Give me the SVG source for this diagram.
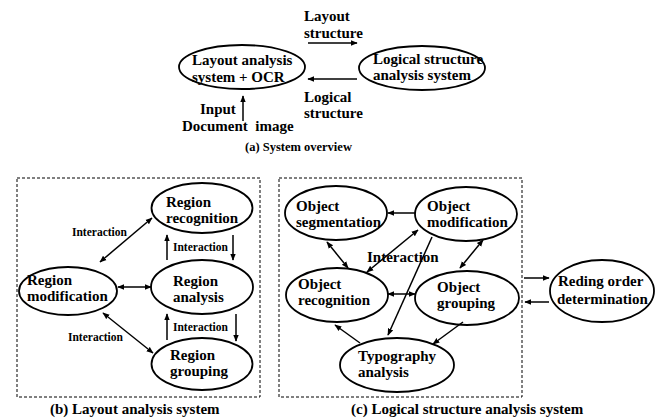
<svg xmlns="http://www.w3.org/2000/svg" width="657" height="420" viewBox="0 0 657 420">
<style>
text{font-family:"Liberation Serif","Times New Roman",serif;font-weight:bold;fill:#000}
.t{font-size:15px}
.s{font-size:11.5px}
.c{font-size:12.5px}
.n ellipse{fill:#fff;stroke:#000;stroke-width:1.8}
.box{fill:none;stroke:#000;stroke-width:1;stroke-dasharray:3,2}
.e line{stroke:#000;stroke-width:1.5}
</style>
<defs>
<marker id="a" viewBox="0 0 10 10" refX="9" refY="5" markerWidth="7" markerHeight="7" markerUnits="userSpaceOnUse" orient="auto-start-reverse">
<path d="M0,1 L10,5 L0,9 Z" fill="#000"/>
</marker>
</defs>
<rect fill="#fff" width="657" height="420"/>

<rect class="box" x="17" y="178" width="243" height="219"/>
<rect class="box" x="279" y="178" width="243" height="219"/>

<g class="n" id="las">
<ellipse cx="242" cy="67" rx="63" ry="22"/>
<text class="t" x="192" y="65">Layout analysis</text>
<text class="t" x="192" y="82">system + OCR</text>
</g>
<g class="n" id="lsas">
<ellipse cx="422" cy="68" rx="63" ry="22"/>
<text class="t" x="373" y="64">Logical structure</text>
<text class="t" x="373" y="80">analysis system</text>
</g>

<g class="n" id="rrec">
<ellipse cx="202" cy="208" rx="50.5" ry="25"/>
<text class="t" x="166" y="207">Region</text>
<text class="t" x="166" y="223">recognition</text>
</g>
<g class="n" id="rana">
<ellipse cx="202" cy="287" rx="51" ry="27"/>
<text class="t" x="173" y="286">Region</text>
<text class="t" x="173" y="302">analysis</text>
</g>
<g class="n" id="rgrp">
<ellipse cx="202" cy="364" rx="50.5" ry="26"/>
<text class="t" x="170" y="360">Region</text>
<text class="t" x="170" y="376">grouping</text>
</g>
<g class="n" id="rmod">
<ellipse cx="68" cy="291" rx="49" ry="24"/>
<text class="t" x="27" y="285">Region</text>
<text class="t" x="27" y="301">modification</text>
</g>

<g class="n" id="oseg">
<ellipse cx="336" cy="213" rx="51" ry="27"/>
<text class="t" x="296" y="211">Object</text>
<text class="t" x="296" y="227">segmentation</text>
</g>
<g class="n" id="omod">
<ellipse cx="466" cy="214" rx="51" ry="27"/>
<text class="t" x="427" y="211">Object</text>
<text class="t" x="427" y="227">modification</text>
</g>
<g class="n" id="orec">
<ellipse cx="337" cy="295" rx="51" ry="27"/>
<text class="t" x="298" y="289">Object</text>
<text class="t" x="298" y="305">recognition</text>
</g>
<g class="n" id="ogrp">
<ellipse cx="467" cy="298" rx="52" ry="27"/>
<text class="t" x="437" y="292">Object</text>
<text class="t" x="437" y="308">grouping</text>
</g>
<g class="n" id="typo">
<ellipse cx="397" cy="365" rx="57" ry="27"/>
<text class="t" x="358" y="361">Typography</text>
<text class="t" x="358" y="377">analysis</text>
</g>
<g class="n" id="rod">
<ellipse cx="602" cy="291" rx="52" ry="31"/>
<text class="t" x="558" y="286">Reding order</text>
<text class="t" x="557" y="304">determination</text>
</g>

<g class="e" id="connectors">
<line x1="308" y1="43" x2="357" y2="43" marker-end="url(#a)"/>
<line x1="357" y1="79" x2="308" y2="79" marker-end="url(#a)"/>
<line x1="243" y1="121" x2="243" y2="96" marker-end="url(#a)"/>

<line x1="100" y1="262" x2="152" y2="218" marker-start="url(#a)" marker-end="url(#a)"/>
<line x1="118" y1="287" x2="151" y2="287" marker-start="url(#a)" marker-end="url(#a)"/>
<line x1="103" y1="313" x2="153" y2="353" marker-start="url(#a)" marker-end="url(#a)"/>
<line x1="167" y1="260" x2="167" y2="235" marker-end="url(#a)"/>
<line x1="233" y1="235" x2="233" y2="260" marker-end="url(#a)"/>
<line x1="167" y1="340" x2="167" y2="314" marker-end="url(#a)"/>
<line x1="236" y1="314" x2="236" y2="341" marker-end="url(#a)"/>

<line x1="415" y1="213" x2="388" y2="213" marker-end="url(#a)"/>
<line x1="327" y1="242" x2="348" y2="268" marker-start="url(#a)" marker-end="url(#a)"/>
<line x1="418" y1="230" x2="367" y2="272" marker-start="url(#a)" marker-end="url(#a)"/>
<line x1="432" y1="237" x2="388" y2="335" marker-end="url(#a)"/>
<line x1="483" y1="240" x2="460" y2="268" marker-start="url(#a)" marker-end="url(#a)"/>
<line x1="388" y1="294" x2="415" y2="294" marker-start="url(#a)" marker-end="url(#a)"/>
<line x1="463" y1="322" x2="433" y2="344" marker-end="url(#a)"/>
<line x1="360" y1="343" x2="335" y2="325" marker-end="url(#a)"/>

<line x1="524" y1="278" x2="549" y2="278" marker-end="url(#a)"/>
<line x1="549" y1="302" x2="525" y2="302" marker-end="url(#a)"/>
</g>

<text class="t" x="304" y="21">Layout</text>
<text class="t" x="304" y="38">structure</text>
<text class="t" x="304" y="102">Logical</text>
<text class="t" x="304" y="118">structure</text>
<text class="t" x="200" y="114">Input</text>
<text class="t" x="182" y="131" xml:space="preserve">Document  image</text>
<text class="c" x="245" y="151">(a) System overview</text>

<text class="s" x="72" y="236">Interaction</text>
<text class="s" x="173" y="251">Interaction</text>
<text class="s" x="173" y="331">Interaction</text>
<text class="s" x="68" y="341">Interaction</text>
<text class="t" x="367" y="262">Interaction</text>

<text class="t" x="50" y="414">(b) Layout analysis system</text>
<text class="t" x="351" y="414">(c) Logical structure analysis system</text>
</svg>
